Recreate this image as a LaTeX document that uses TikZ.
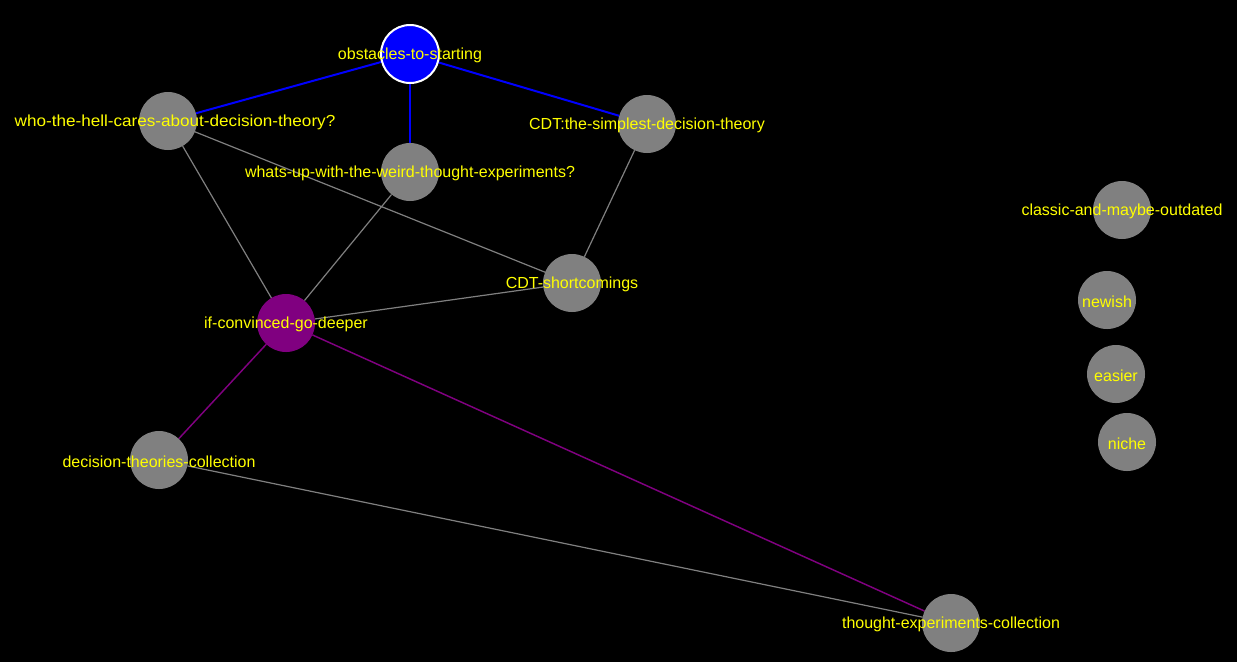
\documentclass[tikz,border=0pt]{standalone}
\usepackage{fontspec}
\setmainfont{Liberation Sans}
\pgfdeclarelayer{bg}
\pgfdeclarelayer{edges}
\pgfdeclarelayer{foreground}
\pgfsetlayers{bg,edges,main,foreground}
\definecolor{ngray}{HTML}{808080}
\definecolor{npurple}{HTML}{800080}
\definecolor{nblue}{HTML}{0000FF}
\definecolor{tyellow}{HTML}{FFFF00}
\tikzset{
  vert/.style={circle, fill=ngray, draw=none, minimum size=43.5pt, inner sep=0pt, outer sep=0pt},
  vpurple/.style={vert, fill=npurple},
  vblue/.style={vert, fill=nblue, draw=white, line width=1.5pt, minimum size=43.5pt},
  lbl/.style={text=tyellow, font=\fontsize{12pt}{14pt}\selectfont, inner sep=0pt, anchor=center, yshift=-1pt},
  egray/.style={draw=ngray, line width=0.9pt},
  eblue/.style={draw=nblue, line width=1.5pt},
  epurple/.style={draw=npurple, line width=1.1pt}
}
\begin{document}
\begin{tikzpicture}[x=0.75pt, y=-0.75pt]
\begin{pgfonlayer}{bg}
\fill[black] (0,0) rectangle (1237,662);
\end{pgfonlayer}
\useasboundingbox (0,0) rectangle (1237,662);
% vertices
\node[vblue] (obs) at (410,54) {};
\node[vert] (who) at (168,121) {};
\node[vert] (cdts) at (647,124) {};
\node[vert] (whats) at (410,172) {};
\node[vert] (short) at (572,283) {};
\node[vpurple] (conv) at (286,323) {};
\node[vert] (dtc) at (159,460) {};
\node[vert] (tec) at (951,623) {};
\node[vert] (classic) at (1122,210) {};
\node[vert] (newish) at (1107,300) {};
\node[vert] (easier) at (1116,374) {};
\node[vert] (niche) at (1127,442) {};
% edges
\begin{pgfonlayer}{edges}
\draw[eblue] (obs) -- (who);
\draw[eblue] (obs) -- (cdts);
\draw[eblue] (obs) -- (whats);
\draw[egray] (who) -- (conv);
\draw[egray] (who) -- (short);
\draw[egray] (whats) -- (conv);
\draw[egray] (cdts) -- (short);
\draw[egray] (conv) -- (short);
\draw[epurple] (conv) -- (dtc);
\draw[epurple] (conv) -- (tec);
\draw[egray] (dtc) -- (tec);
\end{pgfonlayer}
% labels
\begin{pgfonlayer}{foreground}
\node[lbl] (obs-l) at (410,54) {obstacles-to-starting};
\node[lbl, xscale=1.07] (who-l) at (175,121) {who-the-hell-cares-about-decision-theory?};
\node[lbl] (cdts-l) at (647,124) {CDT:the-simplest-decision-theory};
\node[lbl] (whats-l) at (410,172) {whats-up-with-the-weird-thought-experiments?};
\node[lbl] (short-l) at (572,283) {CDT-shortcomings};
\node[lbl] (conv-l) at (286,323) {if-convinced-go-deeper};
\node[lbl] (dtc-l) at (159,460) {decision-theories-collection};
\node[lbl] (tec-l) at (951,623) {thought-experiments-collection};
\node[lbl] (classic-l) at (1122,210) {classic-and-maybe-outdated};
\node[lbl] (newish-l) at (1107,300) {newish};
\node[lbl] (easier-l) at (1116,374) {easier};
\node[lbl] (niche-l) at (1127,442) {niche};
\end{pgfonlayer}
\end{tikzpicture}
\end{document}
